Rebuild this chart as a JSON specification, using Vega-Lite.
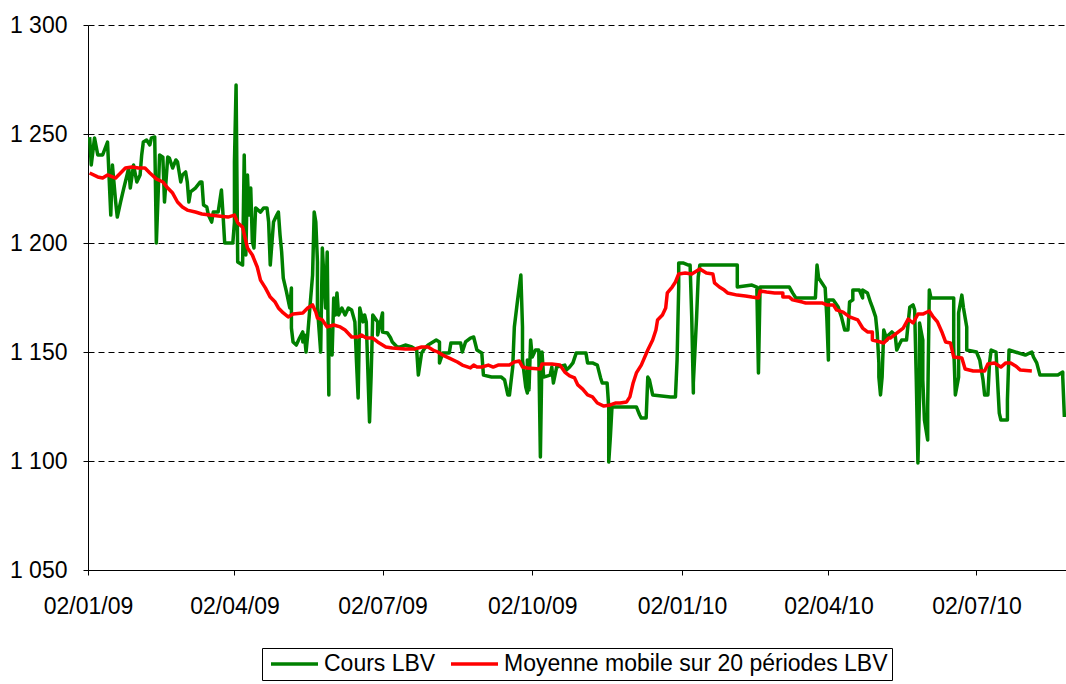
{
"$schema":"https://vega.github.io/schema/vega-lite/v6.json",
"width":978,"height":545,
"autosize":{"type":"none"},
"padding":{"left":88,"top":25,"right":0,"bottom":114},
"background":"white",
"config":{"view":{"stroke":null},"font":"Liberation Sans"},
"datasets":{
"cours":[
{"d":"2009-01-03","v":1248.6},{"d":"2009-01-04","v":1235.8},{"d":"2009-01-06","v":1248.2},{"d":"2009-01-08","v":1240.4},{"d":"2009-01-11","v":1240.4},{"d":"2009-01-14","v":1246.3},{"d":"2009-01-16","v":1212.8},{"d":"2009-01-17","v":1235.8},{"d":"2009-01-19","v":1218.8},{"d":"2009-01-20","v":1211.9},{"d":"2009-01-22","v":1218.8},{"d":"2009-01-24","v":1225.2},{"d":"2009-01-26","v":1231.2},{"d":"2009-01-27","v":1234.4},{"d":"2009-01-28","v":1225.2},{"d":"2009-01-30","v":1235.8},{"d":"2009-02-01","v":1228.0},{"d":"2009-02-03","v":1231.2},{"d":"2009-02-04","v":1240.4},{"d":"2009-02-05","v":1246.3},{"d":"2009-02-07","v":1247.2},{"d":"2009-02-09","v":1245.0},{"d":"2009-02-10","v":1248.2},{"d":"2009-02-12","v":1248.6},{"d":"2009-02-13","v":1200.0},{"d":"2009-02-15","v":1240.4},{"d":"2009-02-17","v":1239.4},{"d":"2009-02-18","v":1218.8},{"d":"2009-02-20","v":1239.4},{"d":"2009-02-21","v":1239.0},{"d":"2009-02-23","v":1234.4},{"d":"2009-02-25","v":1238.1},{"d":"2009-02-26","v":1237.2},{"d":"2009-02-28","v":1228.0},{"d":"2009-03-01","v":1231.2},{"d":"2009-03-03","v":1232.6},{"d":"2009-03-04","v":1228.0},{"d":"2009-03-05","v":1218.8},{"d":"2009-03-06","v":1223.4},{"d":"2009-03-09","v":1225.2},{"d":"2009-03-12","v":1228.0},{"d":"2009-03-13","v":1228.0},{"d":"2009-03-14","v":1217.4},{"d":"2009-03-16","v":1216.5},{"d":"2009-03-17","v":1212.8},{"d":"2009-03-19","v":1209.6},{"d":"2009-03-20","v":1214.2},{"d":"2009-03-23","v":1214.2},{"d":"2009-03-25","v":1224.3},{"d":"2009-03-26","v":1212.8},{"d":"2009-03-27","v":1200.0},{"d":"2009-04-01","v":1200.0},{"d":"2009-04-02","v":1209.6},{"d":"2009-04-02","v":1237.2},{"d":"2009-04-03","v":1272.5},{"d":"2009-04-04","v":1191.3},{"d":"2009-04-07","v":1189.9},{"d":"2009-04-08","v":1240.4},{"d":"2009-04-09","v":1194.5},{"d":"2009-04-10","v":1231.2},{"d":"2009-04-11","v":1212.8},{"d":"2009-04-12","v":1225.2},{"d":"2009-04-13","v":1200.5},{"d":"2009-04-14","v":1197.7},{"d":"2009-04-15","v":1216.1},{"d":"2009-04-18","v":1214.2},{"d":"2009-04-20","v":1216.1},{"d":"2009-04-22","v":1216.1},{"d":"2009-04-23","v":1209.6},{"d":"2009-04-24","v":1189.9},{"d":"2009-04-26","v":1209.6},{"d":"2009-04-28","v":1212.8},{"d":"2009-04-29","v":1214.2},{"d":"2009-04-30","v":1203.7},{"d":"2009-05-01","v":1195.9},{"d":"2009-05-02","v":1183.9},{"d":"2009-05-04","v":1177.5},{"d":"2009-05-06","v":1170.2},{"d":"2009-05-07","v":1179.4},{"d":"2009-05-07","v":1161.0},{"d":"2009-05-08","v":1154.6},{"d":"2009-05-10","v":1153.2},{"d":"2009-05-12","v":1156.4},{"d":"2009-05-14","v":1159.2},{"d":"2009-05-14","v":1154.6},{"d":"2009-05-15","v":1157.8},{"d":"2009-05-16","v":1150.0},{"d":"2009-05-17","v":1157.8},{"d":"2009-05-18","v":1167.0},{"d":"2009-05-20","v":1185.3},{"d":"2009-05-21","v":1214.2},{"d":"2009-05-22","v":1209.6},{"d":"2009-05-23","v":1191.3},{"d":"2009-05-23","v":1170.2},{"d":"2009-05-25","v":1150.0},{"d":"2009-05-26","v":1197.7},{"d":"2009-05-28","v":1170.2},{"d":"2009-05-29","v":1195.9},{"d":"2009-05-30","v":1130.3},{"d":"2009-05-30","v":1162.4},{"d":"2009-06-01","v":1148.6},{"d":"2009-06-02","v":1174.8},{"d":"2009-06-03","v":1167.0},{"d":"2009-06-04","v":1177.1},{"d":"2009-06-05","v":1167.0},{"d":"2009-06-07","v":1170.2},{"d":"2009-06-09","v":1167.0},{"d":"2009-06-11","v":1170.2},{"d":"2009-06-13","v":1169.3},{"d":"2009-06-15","v":1163.8},{"d":"2009-06-16","v":1145.4},{"d":"2009-06-17","v":1128.9},{"d":"2009-06-18","v":1170.2},{"d":"2009-06-20","v":1163.8},{"d":"2009-06-21","v":1167.0},{"d":"2009-06-22","v":1163.8},{"d":"2009-06-24","v":1117.9},{"d":"2009-06-25","v":1139.4},{"d":"2009-06-26","v":1167.0},{"d":"2009-06-29","v":1163.8},{"d":"2009-06-29","v":1157.8},{"d":"2009-07-02","v":1167.9},{"d":"2009-07-02","v":1159.2},{"d":"2009-07-05","v":1158.7},{"d":"2009-07-07","v":1156.4},{"d":"2009-07-08","v":1154.6},{"d":"2009-07-11","v":1152.3},{"d":"2009-07-13","v":1152.3},{"d":"2009-07-16","v":1153.2},{"d":"2009-07-20","v":1152.3},{"d":"2009-07-23","v":1150.9},{"d":"2009-07-24","v":1139.4},{"d":"2009-07-26","v":1149.5},{"d":"2009-07-28","v":1151.8},{"d":"2009-07-30","v":1153.2},{"d":"2009-08-01","v":1154.1},{"d":"2009-08-04","v":1155.5},{"d":"2009-08-06","v":1154.6},{"d":"2009-08-06","v":1145.0},{"d":"2009-08-08","v":1149.5},{"d":"2009-08-12","v":1149.5},{"d":"2009-08-13","v":1154.1},{"d":"2009-08-19","v":1154.1},{"d":"2009-08-20","v":1150.0},{"d":"2009-08-22","v":1154.6},{"d":"2009-08-25","v":1156.4},{"d":"2009-08-27","v":1156.9},{"d":"2009-08-29","v":1150.9},{"d":"2009-09-01","v":1149.5},{"d":"2009-09-02","v":1139.4},{"d":"2009-09-07","v":1138.5},{"d":"2009-09-13","v":1138.5},{"d":"2009-09-15","v":1137.2},{"d":"2009-09-17","v":1130.3},{"d":"2009-09-18","v":1130.3},{"d":"2009-09-20","v":1143.1},{"d":"2009-09-21","v":1161.5},{"d":"2009-09-23","v":1173.9},{"d":"2009-09-25","v":1185.3},{"d":"2009-09-26","v":1161.5},{"d":"2009-09-26","v":1146.3},{"d":"2009-09-28","v":1133.9},{"d":"2009-09-29","v":1131.2},{"d":"2009-09-29","v":1146.3},{"d":"2009-09-30","v":1132.6},{"d":"2009-10-01","v":1155.5},{"d":"2009-10-02","v":1147.7},{"d":"2009-10-04","v":1150.9},{"d":"2009-10-06","v":1150.9},{"d":"2009-10-07","v":1101.8},{"d":"2009-10-08","v":1150.0},{"d":"2009-10-09","v":1138.5},{"d":"2009-10-13","v":1139.4},{"d":"2009-10-14","v":1143.1},{"d":"2009-10-15","v":1135.8},{"d":"2009-10-17","v":1143.1},{"d":"2009-10-22","v":1144.0},{"d":"2009-10-23","v":1141.7},{"d":"2009-10-25","v":1143.1},{"d":"2009-10-27","v":1145.0},{"d":"2009-10-29","v":1149.5},{"d":"2009-11-04","v":1149.5},{"d":"2009-11-05","v":1145.0},{"d":"2009-11-08","v":1145.0},{"d":"2009-11-11","v":1144.0},{"d":"2009-11-13","v":1138.1},{"d":"2009-11-14","v":1135.8},{"d":"2009-11-17","v":1135.8},{"d":"2009-11-18","v":1124.8},{"d":"2009-11-18","v":1099.5},{"d":"2009-11-19","v":1111.0},{"d":"2009-11-20","v":1124.8},{"d":"2009-12-05","v":1124.8},{"d":"2009-12-07","v":1121.1},{"d":"2009-12-08","v":1119.7},{"d":"2009-12-11","v":1119.7},{"d":"2009-12-12","v":1138.5},{"d":"2009-12-13","v":1137.2},{"d":"2009-12-15","v":1130.3},{"d":"2009-12-26","v":1129.4},{"d":"2009-12-29","v":1129.4},{"d":"2009-12-30","v":1146.3},{"d":"2009-12-31","v":1179.8},{"d":"2009-12-31","v":1190.8},{"d":"2010-01-03","v":1190.8},{"d":"2010-01-06","v":1189.9},{"d":"2010-01-07","v":1189.9},{"d":"2010-01-08","v":1166.1},{"d":"2010-01-09","v":1131.2},{"d":"2010-01-09","v":1135.8},{"d":"2010-01-11","v":1166.1},{"d":"2010-01-12","v":1184.4},{"d":"2010-01-13","v":1189.9},{"d":"2010-02-05","v":1189.9},{"d":"2010-02-05","v":1179.8},{"d":"2010-02-14","v":1180.7},{"d":"2010-02-17","v":1179.8},{"d":"2010-02-18","v":1140.4},{"d":"2010-02-19","v":1179.8},{"d":"2010-03-09","v":1179.8},{"d":"2010-03-11","v":1177.1},{"d":"2010-03-13","v":1174.8},{"d":"2010-03-25","v":1174.8},{"d":"2010-03-26","v":1189.9},{"d":"2010-03-27","v":1183.9},{"d":"2010-03-29","v":1181.7},{"d":"2010-03-31","v":1179.4},{"d":"2010-04-01","v":1166.1},{"d":"2010-04-02","v":1146.3},{"d":"2010-04-02","v":1173.9},{"d":"2010-04-05","v":1173.9},{"d":"2010-04-08","v":1170.6},{"d":"2010-04-10","v":1166.1},{"d":"2010-04-12","v":1160.1},{"d":"2010-04-14","v":1160.1},{"d":"2010-04-15","v":1172.9},{"d":"2010-04-17","v":1173.9},{"d":"2010-04-17","v":1178.4},{"d":"2010-04-21","v":1178.4},{"d":"2010-04-23","v":1174.8},{"d":"2010-04-23","v":1178.4},{"d":"2010-04-26","v":1177.1},{"d":"2010-04-28","v":1172.5},{"d":"2010-04-29","v":1170.6},{"d":"2010-05-01","v":1166.1},{"d":"2010-05-02","v":1158.7},{"d":"2010-05-03","v":1145.0},{"d":"2010-05-03","v":1138.5},{"d":"2010-05-04","v":1130.3},{"d":"2010-05-05","v":1138.5},{"d":"2010-05-06","v":1160.1},{"d":"2010-05-08","v":1155.5},{"d":"2010-05-09","v":1157.8},{"d":"2010-05-11","v":1159.2},{"d":"2010-05-13","v":1157.8},{"d":"2010-05-14","v":1150.9},{"d":"2010-05-16","v":1154.1},{"d":"2010-05-17","v":1155.5},{"d":"2010-05-20","v":1155.5},{"d":"2010-05-21","v":1163.3},{"d":"2010-05-22","v":1170.6},{"d":"2010-05-24","v":1171.6},{"d":"2010-05-25","v":1169.3},{"d":"2010-05-26","v":1137.2},{"d":"2010-05-27","v":1099.1},{"d":"2010-05-28","v":1129.4},{"d":"2010-05-28","v":1163.3},{"d":"2010-05-30","v":1155.5},{"d":"2010-05-30","v":1137.2},{"d":"2010-05-31","v":1118.8},{"d":"2010-06-02","v":1109.6},{"d":"2010-06-02","v":1124.8},{"d":"2010-06-03","v":1178.4},{"d":"2010-06-04","v":1174.8},{"d":"2010-06-18","v":1174.8},{"d":"2010-06-18","v":1152.3},{"d":"2010-06-19","v":1130.3},{"d":"2010-06-21","v":1138.5},{"d":"2010-06-21","v":1167.9},{"d":"2010-06-23","v":1176.1},{"d":"2010-06-24","v":1170.2},{"d":"2010-06-26","v":1161.5},{"d":"2010-06-26","v":1150.9},{"d":"2010-07-02","v":1150.0},{"d":"2010-07-04","v":1146.3},{"d":"2010-07-06","v":1137.2},{"d":"2010-07-07","v":1130.3},{"d":"2010-07-09","v":1130.3},{"d":"2010-07-10","v":1145.0},{"d":"2010-07-11","v":1150.9},{"d":"2010-07-14","v":1150.0},{"d":"2010-07-15","v":1135.8},{"d":"2010-07-16","v":1122.0},{"d":"2010-07-17","v":1118.8},{"d":"2010-07-21","v":1118.8},{"d":"2010-07-21","v":1128.0},{"d":"2010-07-22","v":1150.9},{"d":"2010-08-01","v":1148.6},{"d":"2010-08-05","v":1150.0},{"d":"2010-08-06","v":1147.7},{"d":"2010-08-08","v":1145.0},{"d":"2010-08-10","v":1139.4},{"d":"2010-08-21","v":1139.4},{"d":"2010-08-24","v":1140.8},{"d":"2010-08-24","v":1138.5},{"d":"2010-08-25","v":1120.2}
],
"mm20":[
{"d":"2009-01-03","v":1232.1},{"d":"2009-01-08","v":1230.3},{"d":"2009-01-11","v":1229.8},{"d":"2009-01-14","v":1231.2},{"d":"2009-01-19","v":1229.8},{"d":"2009-01-22","v":1232.1},{"d":"2009-01-25","v":1234.4},{"d":"2009-01-29","v":1234.9},{"d":"2009-02-02","v":1234.4},{"d":"2009-02-06","v":1234.4},{"d":"2009-02-09","v":1232.1},{"d":"2009-02-13","v":1229.4},{"d":"2009-02-17","v":1228.0},{"d":"2009-02-20","v":1225.2},{"d":"2009-02-23","v":1222.9},{"d":"2009-02-26","v":1218.8},{"d":"2009-03-01","v":1216.5},{"d":"2009-03-04","v":1215.1},{"d":"2009-03-09","v":1214.2},{"d":"2009-03-13","v":1213.3},{"d":"2009-03-18","v":1212.8},{"d":"2009-03-23","v":1212.4},{"d":"2009-03-29","v":1211.9},{"d":"2009-04-02","v":1212.8},{"d":"2009-04-04","v":1209.2},{"d":"2009-04-07","v":1207.3},{"d":"2009-04-10","v":1197.7},{"d":"2009-04-13","v":1194.5},{"d":"2009-04-16","v":1189.0},{"d":"2009-04-18","v":1183.0},{"d":"2009-04-21","v":1179.4},{"d":"2009-04-24","v":1175.2},{"d":"2009-04-27","v":1172.9},{"d":"2009-04-29","v":1170.2},{"d":"2009-05-02","v":1167.9},{"d":"2009-05-05","v":1166.1},{"d":"2009-05-08","v":1167.4},{"d":"2009-05-14","v":1167.9},{"d":"2009-05-17","v":1170.2},{"d":"2009-05-20","v":1171.6},{"d":"2009-05-22","v":1168.3},{"d":"2009-05-23","v":1165.6},{"d":"2009-05-26","v":1164.7},{"d":"2009-05-29","v":1161.5},{"d":"2009-06-02","v":1162.4},{"d":"2009-06-06","v":1161.5},{"d":"2009-06-09","v":1160.1},{"d":"2009-06-13","v":1156.9},{"d":"2009-06-17","v":1156.9},{"d":"2009-06-19","v":1157.8},{"d":"2009-06-22","v":1156.4},{"d":"2009-06-26","v":1156.4},{"d":"2009-06-29","v":1154.6},{"d":"2009-07-04","v":1152.3},{"d":"2009-07-08","v":1151.8},{"d":"2009-07-16","v":1151.4},{"d":"2009-07-22","v":1151.4},{"d":"2009-07-26","v":1152.3},{"d":"2009-07-30","v":1152.3},{"d":"2009-08-02","v":1150.9},{"d":"2009-08-05","v":1150.0},{"d":"2009-08-08","v":1148.6},{"d":"2009-08-12","v":1147.2},{"d":"2009-08-17","v":1145.4},{"d":"2009-08-20","v":1144.0},{"d":"2009-08-25","v":1142.7},{"d":"2009-08-27","v":1144.0},{"d":"2009-08-29","v":1143.1},{"d":"2009-09-01","v":1143.1},{"d":"2009-09-05","v":1144.0},{"d":"2009-09-08","v":1143.1},{"d":"2009-09-11","v":1144.0},{"d":"2009-09-18","v":1144.0},{"d":"2009-09-21","v":1145.4},{"d":"2009-09-24","v":1145.9},{"d":"2009-09-26","v":1143.1},{"d":"2009-09-29","v":1142.7},{"d":"2009-10-07","v":1142.2},{"d":"2009-10-08","v":1144.5},{"d":"2009-10-14","v":1144.5},{"d":"2009-10-19","v":1144.0},{"d":"2009-10-22","v":1140.8},{"d":"2009-10-25","v":1139.0},{"d":"2009-10-28","v":1138.1},{"d":"2009-10-30","v":1134.9},{"d":"2009-11-02","v":1133.0},{"d":"2009-11-05","v":1130.3},{"d":"2009-11-08","v":1129.4},{"d":"2009-11-11","v":1126.6},{"d":"2009-11-15","v":1125.2},{"d":"2009-11-19","v":1125.7},{"d":"2009-11-22","v":1126.6},{"d":"2009-11-25","v":1126.6},{"d":"2009-11-29","v":1127.1},{"d":"2009-12-01","v":1129.4},{"d":"2009-12-03","v":1135.8},{"d":"2009-12-05","v":1140.4},{"d":"2009-12-08","v":1144.0},{"d":"2009-12-12","v":1150.9},{"d":"2009-12-15","v":1155.5},{"d":"2009-12-17","v":1160.1},{"d":"2009-12-18","v":1164.7},{"d":"2009-12-21","v":1167.0},{"d":"2009-12-23","v":1170.2},{"d":"2009-12-24","v":1177.1},{"d":"2009-12-27","v":1179.8},{"d":"2009-12-29","v":1182.1},{"d":"2009-12-31","v":1185.8},{"d":"2010-01-04","v":1186.2},{"d":"2010-01-08","v":1185.8},{"d":"2010-01-11","v":1187.2},{"d":"2010-01-13","v":1188.1},{"d":"2010-01-17","v":1186.2},{"d":"2010-01-21","v":1185.8},{"d":"2010-01-22","v":1181.7},{"d":"2010-01-25","v":1179.8},{"d":"2010-01-28","v":1178.4},{"d":"2010-01-30","v":1177.1},{"d":"2010-02-05","v":1176.1},{"d":"2010-02-10","v":1175.7},{"d":"2010-02-14","v":1175.2},{"d":"2010-02-18","v":1174.8},{"d":"2010-02-19","v":1178.0},{"d":"2010-02-23","v":1177.5},{"d":"2010-02-28","v":1177.1},{"d":"2010-03-05","v":1177.1},{"d":"2010-03-05","v":1175.2},{"d":"2010-03-09","v":1175.2},{"d":"2010-03-11","v":1173.9},{"d":"2010-03-17","v":1172.9},{"d":"2010-03-19","v":1172.5},{"d":"2010-03-29","v":1172.5},{"d":"2010-04-01","v":1171.6},{"d":"2010-04-05","v":1171.6},{"d":"2010-04-07","v":1169.3},{"d":"2010-04-11","v":1168.3},{"d":"2010-04-15","v":1166.1},{"d":"2010-04-20","v":1164.7},{"d":"2010-04-23","v":1161.0},{"d":"2010-04-26","v":1159.2},{"d":"2010-04-29","v":1159.2},{"d":"2010-04-29","v":1155.5},{"d":"2010-05-04","v":1154.6},{"d":"2010-05-06","v":1154.1},{"d":"2010-05-09","v":1156.4},{"d":"2010-05-10","v":1156.4},{"d":"2010-05-14","v":1158.7},{"d":"2010-05-18","v":1161.0},{"d":"2010-05-21","v":1165.1},{"d":"2010-05-24","v":1163.3},{"d":"2010-05-27","v":1167.4},{"d":"2010-05-30","v":1167.4},{"d":"2010-06-03","v":1168.8},{"d":"2010-06-05","v":1166.5},{"d":"2010-06-08","v":1163.8},{"d":"2010-06-11","v":1158.7},{"d":"2010-06-13","v":1154.6},{"d":"2010-06-16","v":1154.1},{"d":"2010-06-18","v":1147.7},{"d":"2010-06-23","v":1147.2},{"d":"2010-06-25","v":1142.2},{"d":"2010-06-30","v":1141.3},{"d":"2010-07-07","v":1141.3},{"d":"2010-07-09","v":1144.5},{"d":"2010-07-13","v":1145.0},{"d":"2010-07-17","v":1143.1},{"d":"2010-07-20","v":1145.0},{"d":"2010-07-23","v":1145.0},{"d":"2010-07-26","v":1143.6},{"d":"2010-07-29","v":1141.7},{"d":"2010-08-05","v":1141.3}
]
},
"encoding":{
"x":{"field":"d","type":"temporal",
 "scale":{"type":"utc","domain":[{"year":2009,"month":1,"date":2,"utc":true},{"year":2010,"month":8,"date":26,"utc":true}]},
 "axis":{"title":null,"format":"%d/%m/%y","values":[{"year":2009,"month":1,"date":2,"utc":true},{"year":2009,"month":4,"date":2,"utc":true},{"year":2009,"month":7,"date":2,"utc":true},{"year":2009,"month":10,"date":2,"utc":true},{"year":2010,"month":1,"date":2,"utc":true},{"year":2010,"month":4,"date":2,"utc":true},{"year":2010,"month":7,"date":2,"utc":true}],
  "grid":false,"domainColor":"#000","tickColor":"#000","tickSize":5,"labelColor":"#000","labelFontSize":23,"labelFont":"Liberation Sans","labelPadding":20,"labelFlush":false,"labelOverlap":false,"labelBound":false}},
"y":{"field":"v","type":"quantitative",
 "scale":{"domain":[1050,1300],"nice":false,"zero":false},
 "axis":{"title":null,"values":[1050,1100,1150,1200,1250,1300],"labelExpr":"replace(format(datum.value, ','), ',', ' ')","grid":true,"gridColor":"#000","gridDash":[6,4],"gridWidth":1,"domainColor":"#000","tickColor":"#000","tickSize":5,"labelColor":"#000","labelFontSize":23,"labelFont":"Liberation Sans","labelPadding":16}}
},
"layer":[
{"data":{"name":"cours"},"mark":{"type":"line","strokeWidth":3.5,"strokeJoin":"round","clip":true},
 "encoding":{"color":{"datum":"Cours LBV","type":"nominal",
  "scale":{"domain":["Cours LBV","Moyenne mobile sur 20 périodes LBV"],"range":["#008000","#FF0000"]},
  "legend":{"title":null,"orient":"none","legendX":174,"legendY":623,"direction":"horizontal","symbolType":"M-0.7,0H4","symbolSize":400,"symbolStrokeWidth":3.5,"symbolFillColor":"transparent","labelFont":"Liberation Sans","labelFontSize":23,"labelColor":"#000","labelLimit":600,"labelOffset":34,"columnPadding":8,"padding":4,"strokeColor":"#000","fillColor":"white","cornerRadius":0}}}},
{"data":{"name":"mm20"},"mark":{"type":"line","strokeWidth":3.5,"strokeJoin":"round","clip":true},
 "encoding":{"color":{"datum":"Moyenne mobile sur 20 périodes LBV","type":"nominal"}}}
]
}
